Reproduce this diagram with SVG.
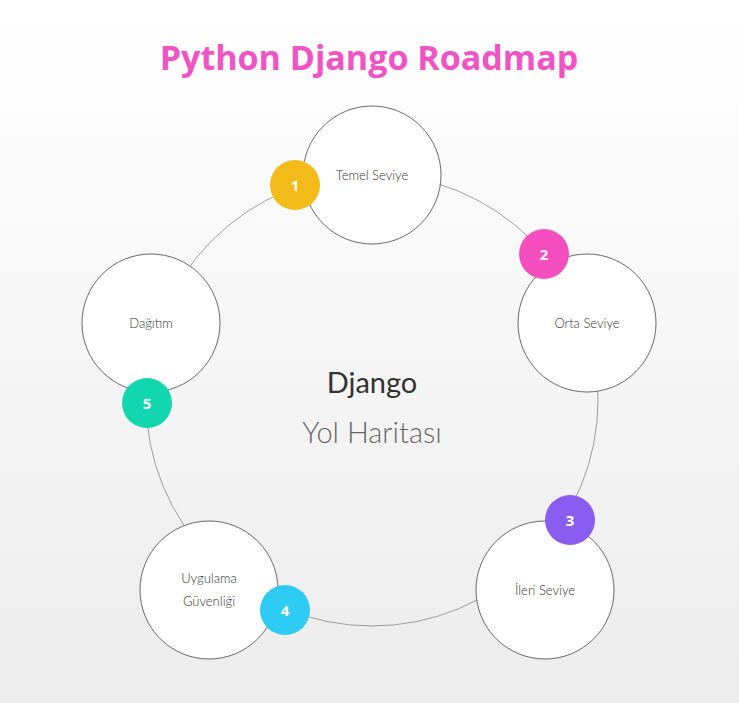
<svg xmlns="http://www.w3.org/2000/svg" width="739" height="703" viewBox="0 0 739 703">
<defs>
<linearGradient id="bg" x1="0" y1="0" x2="0" y2="1"><stop offset="0" stop-color="#ffffff"/><stop offset="1" stop-color="#ececec"/></linearGradient>
<style>
.node{fill:#fff;stroke:#444;stroke-width:0.8}
.lbl{font-family:Lato,"Open Sans",sans-serif;font-size:13px;fill:#333;text-anchor:middle;font-weight:300}
.badge text{font-family:"Open Sans",sans-serif;font-weight:bold;font-size:15px;fill:#fff;text-anchor:middle}
</style>
</defs>
<rect width="739" height="703" fill="url(#bg)"/>
<text x="369" y="70" text-anchor="middle" font-family="'Open Sans',sans-serif" font-weight="bold" font-size="34" fill="#f054c4">Python Django Roadmap</text>
<g id="connectors"><circle cx="372" cy="400" r="226" fill="none" stroke="#888" stroke-width="0.8"/></g>
<g id="center">
<text x="372" y="393" text-anchor="middle" font-family="Lato,sans-serif" font-size="29" fill="#333">Django</text>
<text x="372" y="443" text-anchor="middle" font-family="Lato,sans-serif" font-weight="300" font-size="29" fill="#666">Yol Haritası</text>
</g>
<g id="n1"><circle class="node" cx="372" cy="175" r="69"/><text class="lbl" x="372" y="180">Temel Seviye</text></g>
<g id="n2"><circle class="node" cx="587" cy="323" r="69"/><text class="lbl" x="587" y="328">Orta Seviye</text></g>
<g id="n3"><circle class="node" cx="545" cy="590" r="69"/><text class="lbl" x="545" y="595">İleri Seviye</text></g>
<g id="n4"><circle class="node" cx="209" cy="590" r="69"/><text class="lbl" x="209" y="583">Uygulama</text><text class="lbl" x="209" y="606">Güvenliği</text></g>
<g id="n5"><circle class="node" cx="151" cy="323" r="69"/><text class="lbl" x="151" y="328">Dağıtım</text></g>
<g class="badge" id="b1"><circle cx="295" cy="185" r="25" fill="#f2bb1a"/><text x="295" y="191">1</text></g>
<g class="badge" id="b2"><circle cx="544" cy="254" r="25" fill="#f54fbf"/><text x="544" y="260">2</text></g>
<g class="badge" id="b3"><circle cx="570" cy="520" r="25" fill="#8b5cf0"/><text x="570" y="526">3</text></g>
<g class="badge" id="b4"><circle cx="285" cy="610" r="25" fill="#2ecbf5"/><text x="285" y="616">4</text></g>
<g class="badge" id="b5"><circle cx="147" cy="403" r="25" fill="#12d6b0"/><text x="147" y="409">5</text></g>
</svg>
